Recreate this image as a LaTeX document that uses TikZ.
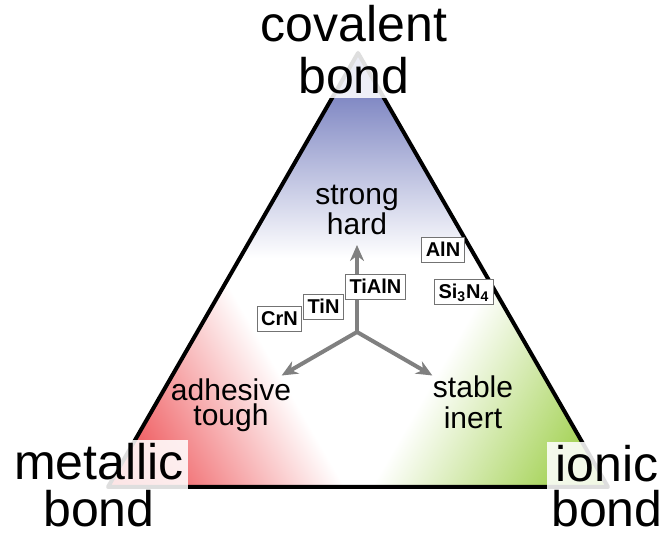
\documentclass[tikz,border=0pt]{standalone}
\usepackage{fontspec}
\setmainfont{Liberation Sans}
\usetikzlibrary{arrows.meta}
\definecolor{bondblue}{RGB}{95,105,180}
\definecolor{bondred}{RGB}{235,50,55}
\definecolor{bondgreen}{RGB}{140,198,40}

\begin{document}
\begin{tikzpicture}[x=0.5pt, y=0.5pt, >={Stealth[length=8pt, width=7pt]},
  bond/.style={font=\fontsize{25}{26}\selectfont, align=center, fill=white,
    fill opacity=0.87, text opacity=1, inner sep=2pt},
  prop/.style={font=\fontsize{15}{15}\selectfont, align=center},
  nitride/.style={draw=gray!90!black, line width=0.5pt, fill=white,
    font=\bfseries\fontsize{10}{12}\selectfont, inner xsep=2pt, inner ysep=2pt,
    text height=7.3pt, text depth=1.2pt}]
  \useasboundingbox (0,0) rectangle (662,533);
  % corners of the bond triangle
  \coordinate (cv) at (358,480);
  \coordinate (mt) at (108,46);
  \coordinate (io) at (608,46);
  \fill[white] (cv) -- (mt) -- (io) -- cycle;
  \begin{scope}
    \clip (cv) -- (mt) -- (io) -- cycle;
    \begin{scope}[blend mode=multiply]
      \foreach \c/\a/\col in {cv/-90/bondblue, mt/30/bondred, io/150/bondgreen}{
        \begin{scope}[transform canvas={shift={(\c)}, rotate=\a}]
          \shade[left color=\col, middle color=\col!65!white, right color=white]
            (0,-160) rectangle (205,160);
        \end{scope}
      }
    \end{scope}
  \end{scope}
  \draw[line width=2pt, line join=round] (cv) -- (mt) -- (io) -- cycle;

  % property arrows
  \coordinate (o) at (357,201);
  \foreach \a/\n in {90/tu, 210/tl, 330/tr}
    \path (o) ++(\a:87) coordinate (\n);
  \foreach \n in {tu, tl, tr}
    \draw[->, gray, line width=2pt, line cap=round] (o) -- (\n);

  \node[prop] (hard) at (357,323) {strong\\hard};
  \node[prop, font=\fontsize{15}{12.5}\selectfont] (tough) at (231,128) {adhesive\\tough};
  \node[prop, font=\fontsize{15}{15.5}\selectfont] (inert) at (473,131) {stable\\inert};

  \node[nitride] (crn) at (279.5,214) {CrN};
  \node[nitride] (tin) at (323.5,225.5) {TiN};
  \node[nitride] (tialn) at (375.5,246) {TiAlN};
  \node[nitride] (aln) at (443,282.5) {AlN};
  \node[nitride] (sin) at (464,241) {Si\textsubscript{3}N\textsubscript{4}};

  \node[bond] (cov) at (354,483) {covalent\\bond};
  \node[bond, font=\fontsize{25}{23.5}\selectfont] (met) at (99,47.5) {metallic\\bond};
  \node[bond, font=\fontsize{25}{22.5}\selectfont] (ion) at (607,46.5) {ionic\\bond};
\end{tikzpicture}
\end{document}
